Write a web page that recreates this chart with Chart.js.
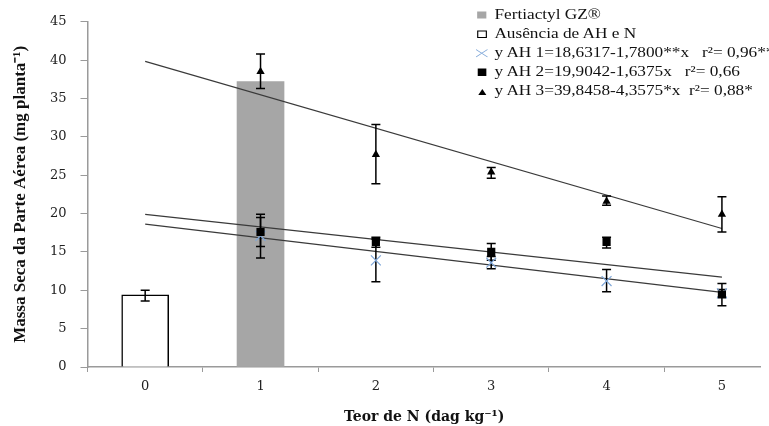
<!DOCTYPE html>
<html>
<head>
<meta charset="utf-8">
<script src="https://cdn.jsdelivr.net/npm/chart.js@4.4.1/dist/chart.umd.min.js"></script>
<style>
  body { margin: 0; background: #fff; }
  #wrap { position: relative; width: 769px; height: 426px; overflow: hidden; }
  #legend { position: absolute; left: 476px; top: 5px; font-family: 'Liberation Serif', 'Times New Roman', serif; font-size: 15px; color: #111; transform: scaleX(1.15); transform-origin: left top; }
  .row { height: 19px; white-space: pre; display: flex; align-items: center; }
  .row svg { width: 11px; height: 12px; margin-right: 5px; flex: none; }
</style>
</head>
<body>
<div id="wrap">
  <canvas id="chart" width="769" height="426"></canvas>
  <div id="legend"></div>
</div>
<script>
// x categories (dag kg-1)
const xLabels = [0, 1, 2, 3, 4, 5];
const doses = [1, 2, 3, 4, 5];

// bars
const controlX = [0];
const controlValue = [9.4];
const controlLow = [8.6];
const controlHigh = [10.0];
const fertX = [1];
const fertValue = [37.2];

// AH 1 (x marker)
const ah1Values = [17.1, 13.9, 13.6, 11.2, 9.6];
const ah1Low = [14.2, 11.1, 12.8, 9.8, 9.1];
const ah1High = [19.5, 16.7, 14.4, 12.7, 10.1];
// AH 2 (square)
const ah2Values = [17.6, 16.3, 15.0, 16.3, 9.45];
const ah2Low = [15.7, 15.6, 13.9, 15.5, 8.0];
const ah2High = [19.9, 16.9, 16.1, 16.9, 10.9];
// AH 3 (triangle)
const ah3Values = [38.5, 27.7, 25.4, 21.6, 19.9];
const ah3Low = [36.3, 23.9, 24.6, 21.1, 17.6];
const ah3High = [40.8, 31.6, 26.0, 22.3, 22.2];

// regression lines, ends at x = 0 and x = 5
const trendX = [0, 5];
const ah1Trend = [18.63, 9.73];
const ah2Trend = [19.90, 11.72];
const ah3Trend = [39.85, 18.06];

const yTicks = [0, 5, 10, 15, 20, 25, 30, 35, 40, 45];

const legendItems = [
  { text: 'Fertiactyl GZ®', marker: '<rect x="1" y="2.5" width="8" height="7" fill="#a6a6a6"/>' },
  { text: 'Ausência de AH e N', marker: '<rect x="1.5" y="3" width="7.5" height="6.5" fill="#fff" stroke="#000" stroke-width="1"/>' },
  { text: 'y AH 1=18,6317-1,7800**x   r²= 0,96**', marker: '<path d="M0 2.5 L10 10 M0 10 L10 2.5" stroke="#7ea6d8" stroke-width="0.9"/>' },
  { text: 'y AH 2=19,9042-1,6375x   r²= 0,66', marker: '<rect x="1.5" y="2.5" width="7.5" height="7.5" fill="#000"/>' },
  { text: 'y AH 3=39,8458-4,3575*x  r²= 0,88*', marker: '<path d="M2 10 L5.5 4 L9 10 Z" fill="#000"/>' }
];

document.getElementById('legend').innerHTML = legendItems.map(item =>
  '<div class="row"><svg viewBox="0 0 11 12">' + item.marker + '</svg>' + item.text + '</div>'
).join('');

const pts = (xs, ys) => xs.map((x, i) => ({ x: x, y: ys[i] }));

const serif = "'Liberation Serif', 'Times New Roman', serif";
const wideSerif = "'DejaVu Serif', serif";

const errorBars = [
  { xs: controlX, low: controlLow, high: controlHigh },
  { xs: doses, low: ah1Low, high: ah1High },
  { xs: doses, low: ah2Low, high: ah2High },
  { xs: doses, low: ah3Low, high: ah3High }
];

const errorBarPlugin = {
  id: 'errorBars',
  afterDatasetDraw(chart, args) {
    // draw right after the last trend line, so markers sit on top
    if (chart.data.datasets[args.index].label !== 'trend AH 3') return;
    const ctx = chart.ctx;
    const xs = chart.scales.x, ys = chart.scales.y;
    ctx.save();
    ctx.strokeStyle = '#000';
    ctx.lineWidth = 1.5;
    errorBars.forEach(set => {
      set.xs.forEach((x, i) => {
        const px = xs.getPixelForValue(x);
        const top = ys.getPixelForValue(set.high[i]);
        const bot = ys.getPixelForValue(set.low[i]);
        ctx.beginPath();
        ctx.moveTo(px, top); ctx.lineTo(px, bot);
        ctx.moveTo(px - 4.5, top); ctx.lineTo(px + 4.5, top);
        ctx.moveTo(px - 4.5, bot); ctx.lineTo(px + 4.5, bot);
        ctx.stroke();
      });
    });
    ctx.restore();
  }
};

const trendLine = (label, ys, order) => ({
  type: 'line',
  label: label,
  data: pts(trendX, ys),
  borderColor: '#3a3a3a',
  borderWidth: 1.2,
  pointRadius: 0,
  fill: false,
  order: order
});

new Chart(document.getElementById('chart'), {
  type: 'bar',
  data: {
    datasets: [
      {
        label: 'Ausência de AH e N',
        data: pts(controlX, controlValue),
        backgroundColor: '#fff',
        borderColor: '#000',
        borderWidth: 1.5,
        barThickness: 47,
        grouped: false,
        order: 10
      },
      {
        label: 'Fertiactyl GZ®',
        data: pts(fertX, fertValue),
        backgroundColor: '#a6a6a6',
        borderWidth: 0,
        barThickness: 47,
        grouped: false,
        order: 9
      },
      trendLine('trend AH 1', ah1Trend, 8),
      trendLine('trend AH 2', ah2Trend, 7),
      trendLine('trend AH 3', ah3Trend, 6),
      {
        type: 'scatter',
        label: 'AH 1',
        data: pts(doses, ah1Values),
        pointStyle: 'crossRot',
        pointRadius: 7,
        borderColor: '#7ea6d8',
        backgroundColor: '#7ea6d8',
        pointBorderWidth: 1.2,
        order: 3
      },
      {
        type: 'scatter',
        label: 'AH 2',
        data: pts(doses, ah2Values),
        pointStyle: 'rect',
        pointRadius: 5.8,
        borderColor: '#000',
        backgroundColor: '#000',
        pointBorderWidth: 0,
        order: 2
      },
      {
        type: 'scatter',
        label: 'AH 3',
        data: pts(doses, ah3Values),
        pointStyle: 'triangle',
        pointRadius: 4.8,
        borderColor: '#000',
        backgroundColor: '#000',
        pointBorderWidth: 0,
        order: 1
      }
    ]
  },
  options: {
    responsive: false,
    animation: false,
    devicePixelRatio: 1,
    layout: { padding: { top: 17, right: 0, left: 0, bottom: 0 } },
    plugins: { legend: { display: false }, tooltip: { enabled: false } },
    scales: {
      x: {
        type: 'linear',
        offset: false,
        min: -0.5,
        max: 5.337,
        afterBuildTicks: scale => { scale.ticks = xLabels.map(v => ({ value: v })); },
        afterFit: scale => { scale.height = 59; },
        grid: { offset: true, drawOnChartArea: false, drawTicks: true, tickLength: 5, color: '#9a9a9a' },
        border: { color: '#9a9a9a', width: 1.5 },
        ticks: { color: '#222', font: { family: wideSerif, size: 13 }, padding: 7 },
        title: {
          display: true,
          text: 'Teor de N (dag kg⁻¹)',
          color: '#111',
          font: { family: wideSerif, size: 14, weight: 'bold' },
          padding: { top: 3, bottom: 0 }
        }
      },
      y: {
        min: 0,
        max: 45,
        afterBuildTicks: scale => { scale.ticks = yTicks.map(v => ({ value: v })); },
        afterFit: scale => { scale.width = 87.5; },
        grid: { drawOnChartArea: false, drawTicks: true, tickLength: 7, color: '#9a9a9a' },
        border: { color: '#9a9a9a', width: 1.5 },
        ticks: { color: '#222', font: { family: wideSerif, size: 13 }, padding: 14 },
        title: {
          display: true,
          text: 'Massa Seca da Parte Aérea (mg planta⁻¹)',
          color: '#111',
          font: { family: serif, size: 17, weight: 'bold' },
          padding: { top: 10, bottom: 0 }
        }
      }
    }
  },
  plugins: [errorBarPlugin]
});
</script>
</body>
</html>
